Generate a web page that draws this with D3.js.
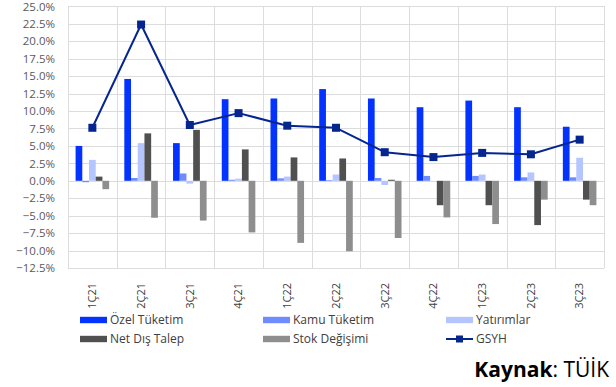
<!DOCTYPE html>
<html>
<head>
<meta charset="utf-8">
<script src="https://cdn.jsdelivr.net/npm/d3@7"></script>
<style>
  html, body { margin: 0; padding: 0; background: #fff; }
  svg { display: block; font-family: "Open Sans", "Noto Sans", sans-serif; }
</style>
</head>
<body>
<svg id="chart" width="616" height="387"></svg>
<script>
// Quarterly GDP growth and contributions (%)
const quarters = ["1Ç21", "2Ç21", "3Ç21", "4Ç21", "1Ç22", "2Ç22", "3Ç22", "4Ç22", "1Ç23", "2Ç23", "3Ç23"];
const seriesNames = ["Özel Tüketim", "Kamu Tüketim", "Yatırımlar", "Net Dış Talep", "Stok Değişimi"];
const ozelTuketim  = [5.0, 14.6, 5.4, 11.7, 11.8, 13.15, 11.8, 10.55, 11.5, 10.55, 7.75];
const kamuTuketim  = [-0.2, 0.4, 1.05, 0.15, 0.35, 0.1, 0.4, 0.7, 0.7, 0.5, 0.5];
const yatirimlar   = [3.0, 5.4, -0.4, 0.3, 0.6, 0.9, -0.6, 0.0, 0.9, 1.2, 3.3];
const netDisTalep  = [0.6, 6.8, 7.3, 4.5, 3.35, 3.2, 0.15, -3.5, -3.5, -6.35, -2.7];
const stokDegisimi = [-1.2, -5.3, -5.7, -7.4, -8.9, -10.1, -8.2, -5.25, -6.2, -2.7, -3.5];
const gsyh         = [7.6, 22.4, 8.0, 9.7, 7.9, 7.6, 4.1, 3.4, 4.0, 3.8, 5.9];
const yTicks = [25, 22.5, 20, 17.5, 15, 12.5, 10, 7.5, 5, 2.5, 0, -2.5, -5, -7.5, -10, -12.5];

const seriesValues = [ozelTuketim, kamuTuketim, yatirimlar, netDisTalep, stokDegisimi];
const colors = ["#0433ff", "#6f8cff", "#b5c5ff", "#505050", "#8e8e8e"];
const lineColor = "#06268f";

const svg = d3.select("#chart");
const plot = { left: 68, right: 604, top: 6.4, bottom: 268 };

const x0 = d3.scaleBand().domain(quarters).range([plot.left, plot.right]).paddingInner(0).paddingOuter(0);
const x1 = d3.scaleBand().domain(seriesNames).range([0, x0.bandwidth()]).paddingInner(0).paddingOuter(1.13);
const y = d3.scaleLinear().domain([-12.5, 25]).range([plot.bottom, plot.top]);

// grid
const grid = svg.append("g").attr("stroke", "#dcdcdc").attr("stroke-width", 1).attr("shape-rendering", "crispEdges");
grid.selectAll("line.h").data(yTicks).join("line")
  .attr("x1", plot.left).attr("x2", plot.right)
  .attr("y1", d => Math.round(y(d)) + 0.5).attr("y2", d => Math.round(y(d)) + 0.5);
const vlines = quarters.map(q => x0(q)).concat([plot.right]);
grid.selectAll("line.v").data(vlines).join("line")
  .attr("x1", d => Math.round(d) + 0.5).attr("x2", d => Math.round(d) + 0.5)
  .attr("y1", plot.top).attr("y2", plot.bottom);

// y axis labels
const yAxis = d3.axisLeft(y).tickValues(yTicks).tickSize(0).tickPadding(0)
  .tickFormat(d => d3.format(".1f")(d) + "%");
svg.append("g").attr("transform", `translate(${plot.left - 13},0)`).call(yAxis)
  .call(g => g.select(".domain").remove())
  .call(g => g.selectAll("text").attr("fill", "#595959").style("font-size", "11.5px")
    .style("font-family", "'Open Sans', sans-serif"));

// bars
const groups = svg.append("g").selectAll("g").data(quarters).join("g")
  .attr("transform", q => `translate(${x0(q)},0)`);
groups.selectAll("rect").data((q, i) => seriesNames.map((s, k) => ({ s, k, v: seriesValues[k][i] })))
  .join("rect")
  .attr("x", d => x1(d.s))
  .attr("width", x1.bandwidth())
  .attr("y", d => y(Math.max(0, d.v)))
  .attr("height", d => Math.abs(y(d.v) - y(0)))
  .attr("fill", d => colors[d.k]);

// GSYH line
const cx = q => x0(q) + x0.bandwidth() / 2;
const line = d3.line().x((d, i) => cx(quarters[i])).y(d => y(d));
svg.append("path").datum(gsyh).attr("d", line)
  .attr("fill", "none").attr("stroke", lineColor).attr("stroke-width", 2).attr("stroke-linejoin", "round");
svg.append("g").selectAll("rect").data(gsyh).join("rect")
  .attr("x", (d, i) => cx(quarters[i]) - 4).attr("y", d => y(d) - 4)
  .attr("width", 8).attr("height", 8).attr("fill", lineColor);

// x axis labels (rotated)
const xAxis = d3.axisBottom(x0).tickSize(0).tickPadding(0);
svg.append("g").attr("transform", `translate(0,${plot.bottom})`).call(xAxis)
  .call(g => g.select(".domain").remove())
  .call(g => g.selectAll("text")
    .attr("fill", "#404040").style("font-size", "11px").style("font-family", "'Open Sans', sans-serif")
    .attr("text-anchor", "end").attr("dy", "0.35em")
    .attr("transform", "translate(0,15) rotate(-90)")
    .attr("x", 0).attr("y", 0));

// legend
const legendItems = [
  { name: "Özel Tüketim", type: "bar", color: colors[0], x: 80, y: 320 },
  { name: "Kamu Tüketim", type: "bar", color: colors[1], x: 263, y: 320 },
  { name: "Yatırımlar", type: "bar", color: colors[2], x: 446, y: 320 },
  { name: "Net Dış Talep", type: "bar", color: colors[3], x: 80, y: 339 },
  { name: "Stok Değişimi", type: "bar", color: colors[4], x: 263, y: 339 },
  { name: "GSYH", type: "line", color: lineColor, x: 446, y: 339 }
];
const lg = svg.append("g").selectAll("g").data(legendItems).join("g")
  .attr("transform", d => `translate(${d.x},${d.y})`);
lg.filter(d => d.type === "bar").append("rect")
  .attr("x", 0).attr("y", -3.2).attr("width", 27).attr("height", 6.4).attr("fill", d => d.color);
lg.filter(d => d.type === "line").append("line")
  .attr("x1", 0).attr("x2", 27).attr("y1", 0).attr("y2", 0)
  .attr("stroke", d => d.color).attr("stroke-width", 2);
lg.filter(d => d.type === "line").append("rect")
  .attr("x", 10).attr("y", -3.5).attr("width", 7).attr("height", 7).attr("fill", d => d.color);
lg.append("text").attr("x", 30).attr("y", 0).attr("dy", "0.35em")
  .attr("fill", "#404040").style("font-size", "12px").text(d => d.name);

// source note
const src = svg.append("text").attr("x", 609).attr("y", 377).attr("text-anchor", "end")
  .attr("fill", "#000").style("font-size", "21px").style("font-family", "'Open Sans', sans-serif");
src.append("tspan").style("font-weight", "bold").text("Kaynak");
src.append("tspan").text(": TÜİK");
</script>
</body>
</html>
